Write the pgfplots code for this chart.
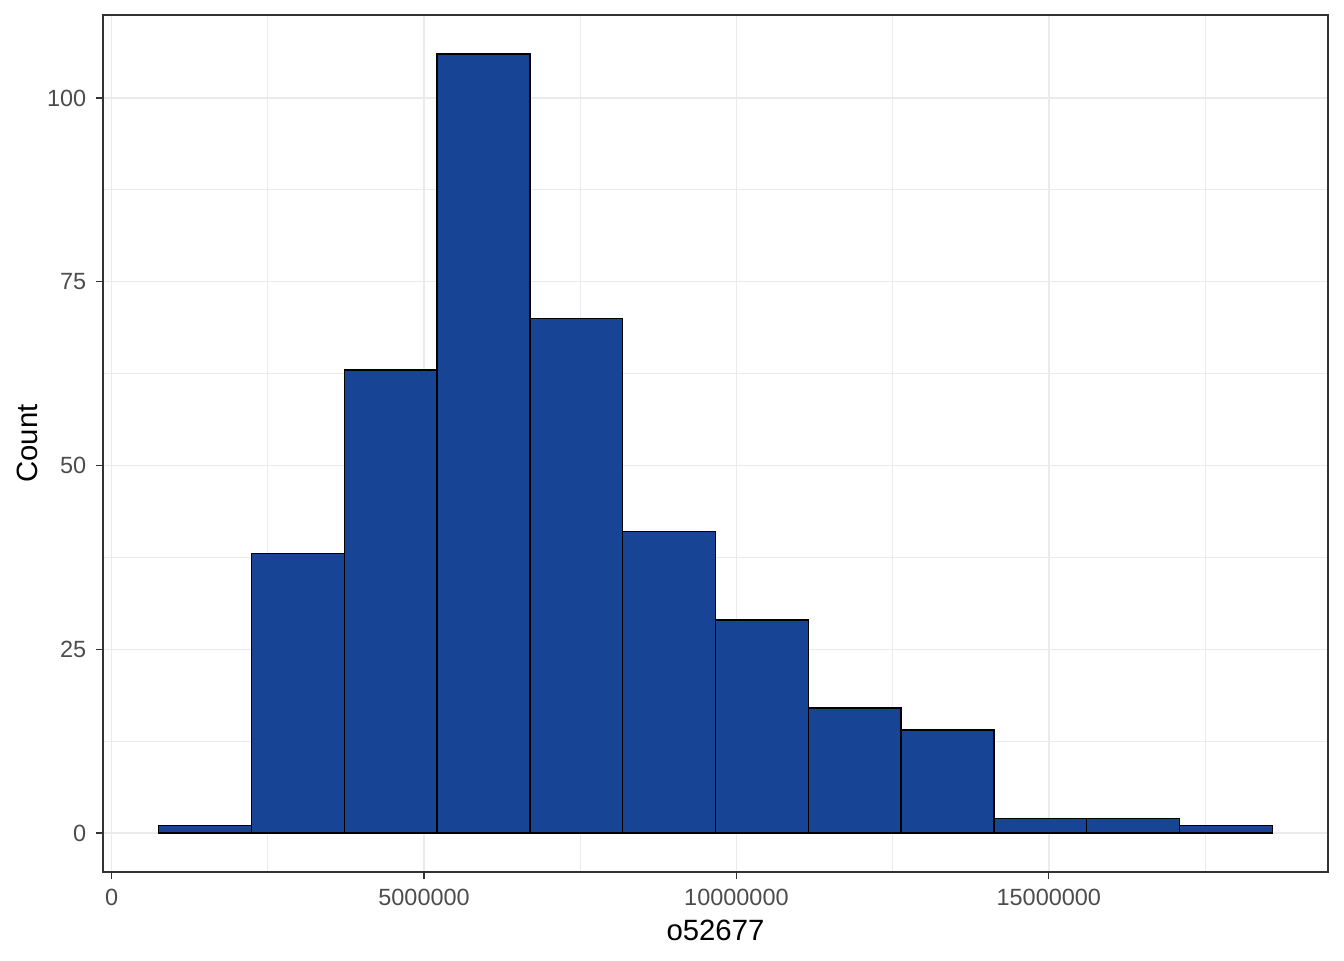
\documentclass[border=0pt]{standalone}
\usepackage{pgfplots}
\pgfplotsset{compat=1.18}
\usepackage{fontspec}
\setmainfont{Liberation Sans}
\definecolor{barfill}{RGB}{24,68,150}
\definecolor{grid92}{gray}{0.92}
\definecolor{grey20}{gray}{0.2}
\definecolor{grey30}{gray}{0.3}
\begin{document}
\begin{tikzpicture}
\begin{axis}[
  scale only axis,
  width=459.4pt, height=321.4pt,
  xmin=-140600, xmax=19469000,
  ymin=-5.3, ymax=111.3,
  scaled x ticks=false,
  axis line style={grey20, line width=0.5pt},
  xtick={0,5000000,10000000,15000000},
  xticklabels={0,5000000,10000000,15000000},
  minor xtick={2500000,7500000,12500000,17500000},
  ytick={0,25,50,75,100},
  minor ytick={12.5,37.5,62.5,87.5},
  grid=both,
  major grid style={grid92, line width=0.55pt},
  minor grid style={grid92, line width=0.3pt},
  tick align=outside,
  major tick length=2.75pt,
  minor tick length=0pt,
  tick style={grey20, line width=0.5pt},
  xtick pos=bottom, ytick pos=left,
  ticklabel style={font=\fontsize{8.8pt}{10pt}\selectfont, text=grey30},
  /pgf/number format/assume math mode=true,
  xlabel={o52677}, ylabel={Count},
  label style={font=\fontsize{11pt}{13pt}\selectfont, text=black},
  xlabel style={yshift=1.5pt},
  ylabel style={yshift=-3.5pt},
]
\addplot[ybar interval, fill=barfill, draw=black, line width=0.5pt] coordinates {
(750800,1)
(2236400,38)
(3722000,63)
(5207600,106)
(6693200,70)
(8178800,41)
(9664400,29)
(11150000,17)
(12635600,14)
(14121200,2)
(15606800,2)
(17092400,1)
(18578000,1)
};
\end{axis}
\useasboundingbox (-38.6pt,-33pt) rectangle ++(504pt,360pt);
\end{tikzpicture}
\end{document}
